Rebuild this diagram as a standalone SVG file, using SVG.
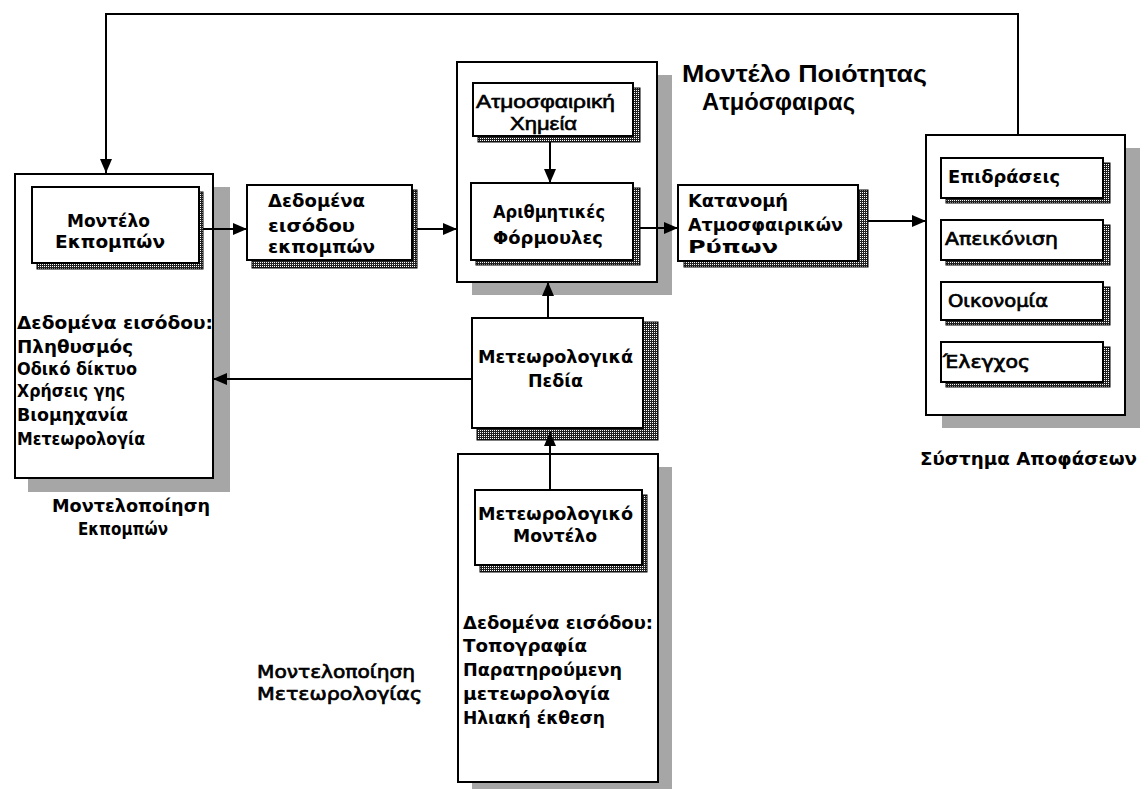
<svg xmlns="http://www.w3.org/2000/svg" width="1141" height="789" viewBox="0 0 1141 789">
  <style>
    .frame { fill: #fff; stroke: #000; stroke-width: 2; }
    .card { fill: #fff; stroke: #000; stroke-width: 2; }
    .shade { fill: #a6a6a6; stroke: none; }
    .stack { fill: url(#dots); stroke: #000; stroke-width: 1; }
    .wire { fill: none; stroke: #000; stroke-width: 2; }
    text { font-family: "DejaVu Sans", "Liberation Sans", sans-serif; font-size: 18px; fill: #000; }
    .b { font-weight: bold; }
    .m { font-family: "Liberation Sans", Arial, sans-serif; font-size: 19px; font-weight: normal; stroke: #000; stroke-width: 0.6; }
    .lbl { font-size: 18px; font-weight: normal; stroke: #000; stroke-width: 0.7; }
    .title { font-family: "Liberation Sans", Arial, sans-serif; font-weight: bold; font-size: 24px; }
  </style>
  <defs>
    <pattern id="dots" width="2" height="2" patternUnits="userSpaceOnUse">
      <rect width="2" height="2" fill="#222"/>
      <rect width="1" height="1" fill="#fff"/>
    </pattern>
    <marker id="arrow" viewBox="0 0 14 12" refX="14" refY="6" markerWidth="14" markerHeight="12" markerUnits="userSpaceOnUse" orient="auto">
      <path d="M0,0 L14,6 L0,12 Z" fill="#000"/>
    </marker>
  </defs>

  <rect width="1141" height="789" fill="#fff"/>

  <!-- emissions modelling block -->
  <g id="emissions-modelling">
    <rect class="shade" x="28" y="187" width="202" height="305"/>
    <rect class="frame" x="15" y="174" width="198" height="304"/>
    <text class="b" x="17" y="329" textLength="196" lengthAdjust="spacingAndGlyphs">Δεδομένα εισόδου:</text>
    <text class="b" x="17" y="353" textLength="116" lengthAdjust="spacingAndGlyphs">Πληθυσμός</text>
    <text class="b" x="17" y="375" textLength="120" lengthAdjust="spacingAndGlyphs">Οδικό δίκτυο</text>
    <text class="b" x="17" y="397" textLength="108" lengthAdjust="spacingAndGlyphs">Χρήσεις γης</text>
    <text class="b" x="17" y="421" textLength="111" lengthAdjust="spacingAndGlyphs">Βιομηχανία</text>
    <text class="b" x="17" y="445" textLength="128" lengthAdjust="spacingAndGlyphs">Μετεωρολογία</text>
    <text class="b" x="52" y="512" textLength="158" lengthAdjust="spacingAndGlyphs">Μοντελοποίηση</text>
    <text class="b" x="78" y="535" textLength="90" lengthAdjust="spacingAndGlyphs">Εκπομπών</text>
  </g>
  <g id="emissions-model">
    <rect class="stack" x="37" y="192" width="166" height="77"/>
    <rect class="card" x="32" y="187" width="167" height="76"/>
    <text class="b" x="67" y="227" textLength="83" lengthAdjust="spacingAndGlyphs">Μοντέλο</text>
    <text class="b" x="55" y="248" textLength="110" lengthAdjust="spacingAndGlyphs">Εκπομπών</text>
  </g>

  <!-- emissions input data -->
  <g id="emission-inputs">
    <rect class="stack" x="252" y="190" width="165" height="78"/>
    <rect class="card" x="247" y="185" width="165" height="75"/>
    <text class="b" x="268" y="207" textLength="97" lengthAdjust="spacingAndGlyphs">Δεδομένα</text>
    <text class="b" x="268" y="232" textLength="87" lengthAdjust="spacingAndGlyphs">εισόδου</text>
    <text class="b" x="268" y="253" textLength="107" lengthAdjust="spacingAndGlyphs">εκπομπών</text>
  </g>

  <!-- air quality model -->
  <g id="air-quality-model">
    <rect class="shade" x="472" y="75" width="200" height="220"/>
    <rect class="frame" x="457" y="62" width="200" height="220"/>
    <text class="title" x="682" y="82" textLength="245" lengthAdjust="spacingAndGlyphs">Μοντέλο Ποιότητας</text>
    <text class="title" x="702" y="110" textLength="153" lengthAdjust="spacingAndGlyphs">Ατμόσφαιρας</text>
  </g>
  <g id="atmospheric-chemistry">
    <rect class="stack" x="478" y="88" width="162" height="54"/>
    <rect class="card" x="473" y="83" width="160" height="53"/>
    <text class="m" x="476" y="108" textLength="139" lengthAdjust="spacingAndGlyphs">Ατμοσφαιρική</text>
    <text class="m" x="510" y="130" textLength="67" lengthAdjust="spacingAndGlyphs">Χημεία</text>
  </g>
  <g id="numerical-formulas">
    <rect class="stack" x="476" y="188" width="164" height="77"/>
    <rect class="card" x="471" y="183" width="162" height="77"/>
    <text class="b" x="493" y="218" textLength="112" lengthAdjust="spacingAndGlyphs">Αριθμητικές</text>
    <text class="b" x="493" y="244" textLength="110" lengthAdjust="spacingAndGlyphs">Φόρμουλες</text>
  </g>

  <!-- pollutant distribution -->
  <g id="pollutant-distribution">
    <rect class="stack" x="684" y="190" width="184" height="77"/>
    <rect class="card" x="678" y="185" width="180" height="76"/>
    <text class="b" x="688" y="207" textLength="100" lengthAdjust="spacingAndGlyphs">Κατανομή</text>
    <text class="b" x="688" y="231" textLength="155" lengthAdjust="spacingAndGlyphs">Ατμοσφαιρικών</text>
    <text class="b" x="688" y="253" textLength="90" lengthAdjust="spacingAndGlyphs">Ρύπων</text>
  </g>

  <!-- decision system -->
  <g id="decision-system">
    <rect class="shade" x="942" y="148" width="198" height="280"/>
    <rect class="frame" x="926" y="135" width="199" height="280"/>
    <text class="b" x="920" y="465" textLength="217" lengthAdjust="spacingAndGlyphs">Σύστημα Αποφάσεων</text>
  </g>
  <g id="impacts">
    <rect class="stack" x="946" y="163" width="164" height="40"/>
    <rect class="card" x="941" y="158" width="162" height="40"/>
    <text class="b" x="948" y="183" textLength="112" lengthAdjust="spacingAndGlyphs">Επιδράσεις</text>
  </g>
  <g id="visualisation">
    <rect class="stack" x="946" y="225" width="164" height="40"/>
    <rect class="card" x="941" y="220" width="162" height="40"/>
    <text class="lbl" x="945" y="245" textLength="113" lengthAdjust="spacingAndGlyphs">Απεικόνιση</text>
  </g>
  <g id="economy">
    <rect class="stack" x="946" y="287" width="164" height="38"/>
    <rect class="card" x="941" y="282" width="162" height="38"/>
    <text class="lbl" x="948" y="307" textLength="100" lengthAdjust="spacingAndGlyphs">Οικονομία</text>
  </g>
  <g id="control">
    <rect class="stack" x="946" y="347" width="164" height="40"/>
    <rect class="card" x="941" y="342" width="162" height="40"/>
    <text class="lbl" x="943" y="368" textLength="87" lengthAdjust="spacingAndGlyphs">Έλεγχος</text>
  </g>

  <!-- meteorological fields -->
  <g id="meteorological-fields">
    <rect class="stack" x="477" y="322" width="181" height="118"/>
    <rect class="card" x="472" y="318" width="171" height="110"/>
    <text class="b" x="478" y="363" textLength="155" lengthAdjust="spacingAndGlyphs">Μετεωρολογικά</text>
    <text class="b" x="528" y="387" textLength="55" lengthAdjust="spacingAndGlyphs">Πεδία</text>
  </g>

  <!-- meteorology modelling block -->
  <g id="meteorology-modelling">
    <rect class="shade" x="472" y="467" width="200" height="330"/>
    <rect class="frame" x="458" y="454" width="200" height="328"/>
    <text class="b" x="463" y="629" textLength="190" lengthAdjust="spacingAndGlyphs">Δεδομένα εισόδου:</text>
    <text class="b" x="463" y="652" textLength="124" lengthAdjust="spacingAndGlyphs">Τοπογραφία</text>
    <text class="b" x="463" y="676" textLength="159" lengthAdjust="spacingAndGlyphs">Παρατηρούμενη</text>
    <text class="b" x="463" y="700" textLength="147" lengthAdjust="spacingAndGlyphs">μετεωρολογία</text>
    <text class="b" x="463" y="724" textLength="142" lengthAdjust="spacingAndGlyphs">Ηλιακή έκθεση</text>
    <text class="lbl" x="257" y="678" textLength="158" lengthAdjust="spacingAndGlyphs">Μοντελοποίηση</text>
    <text class="lbl" x="257" y="700" textLength="165" lengthAdjust="spacingAndGlyphs">Μετεωρολογίας</text>
  </g>
  <g id="meteorological-model">
    <rect class="stack" x="480" y="495" width="167" height="77"/>
    <rect class="card" x="475" y="490" width="167" height="75"/>
    <text class="b" x="478" y="520" textLength="155" lengthAdjust="spacingAndGlyphs">Μετεωρολογικό</text>
    <text class="b" x="513" y="542" textLength="84" lengthAdjust="spacingAndGlyphs">Μοντέλο</text>
  </g>

  <!-- connectors -->
  <g id="connectors">
    <path class="wire" d="M1018,135 V14 H106 V173" marker-end="url(#arrow)"/>
    <path class="wire" d="M203,229 H247" marker-end="url(#arrow)"/>
    <path class="wire" d="M417,229 H457" marker-end="url(#arrow)"/>
    <path class="wire" d="M550,142 V183" marker-end="url(#arrow)"/>
    <path class="wire" d="M640,228 H678" marker-end="url(#arrow)"/>
    <path class="wire" d="M868,221 H926" marker-end="url(#arrow)"/>
    <path class="wire" d="M548,318 V282" marker-end="url(#arrow)"/>
    <path class="wire" d="M472,379 H213" marker-end="url(#arrow)"/>
    <path class="wire" d="M550,490 V432" marker-end="url(#arrow)"/>
  </g>
</svg>
